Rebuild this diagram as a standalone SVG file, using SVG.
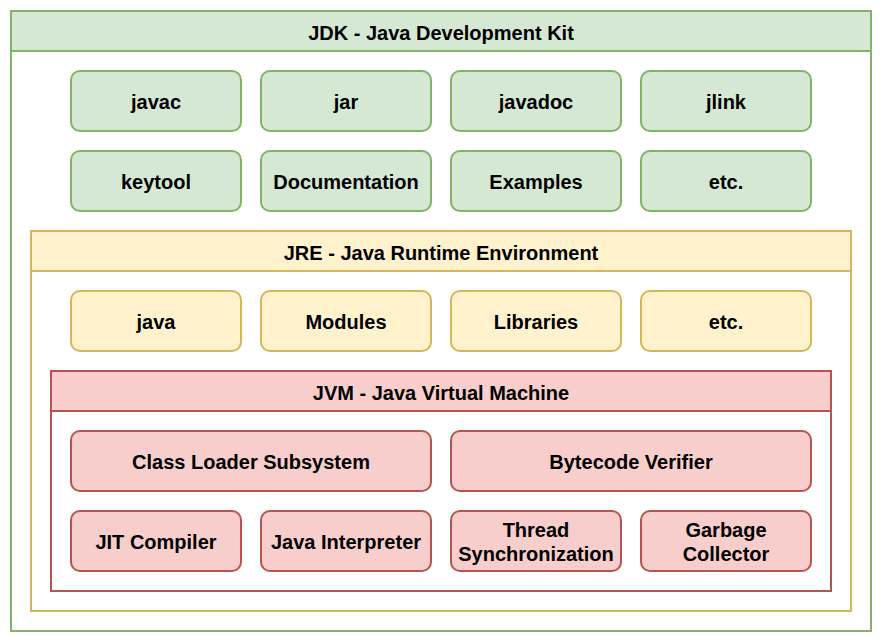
<svg xmlns="http://www.w3.org/2000/svg" width="882" height="642" viewBox="0 0 882 642">
<style>
text{font-family:"Liberation Sans",Arial,sans-serif;font-weight:bold;font-size:20px;fill:#000;text-anchor:middle}
.g{fill:#d5e8d4;stroke:#82b366;stroke-width:2}
.y{fill:#fff2cc;stroke:#d6b656;stroke-width:2}
.r{fill:#f8cecc;stroke:#b85450;stroke-width:2}
.w{fill:#fff;stroke-width:2}
</style>
<rect width="882" height="642" fill="#fff"/>
<g id="jdk">
<rect class="w" x="11" y="11" width="860" height="620" stroke="#82b366"/>
<rect class="g" x="11" y="11" width="860" height="40"/>
<text x="441" y="40">JDK - Java Development Kit</text>
</g>
<g id="javac"><rect class="g" x="71" y="71" width="170" height="60" rx="9"/><text x="156" y="109">javac</text></g>
<g id="jar"><rect class="g" x="261" y="71" width="170" height="60" rx="9"/><text x="346" y="109">jar</text></g>
<g id="javadoc"><rect class="g" x="451" y="71" width="170" height="60" rx="9"/><text x="536" y="109">javadoc</text></g>
<g id="jlink"><rect class="g" x="641" y="71" width="170" height="60" rx="9"/><text x="726" y="109">jlink</text></g>
<g id="keytool"><rect class="g" x="71" y="151" width="170" height="60" rx="9"/><text x="156" y="189">keytool</text></g>
<g id="documentation"><rect class="g" x="261" y="151" width="170" height="60" rx="9"/><text x="346" y="189">Documentation</text></g>
<g id="examples"><rect class="g" x="451" y="151" width="170" height="60" rx="9"/><text x="536" y="189">Examples</text></g>
<g id="jdk-etc"><rect class="g" x="641" y="151" width="170" height="60" rx="9"/><text x="726" y="189">etc.</text></g>
<g id="jre">
<rect class="w" x="31" y="231" width="820" height="380" stroke="#d6b656"/>
<rect class="y" x="31" y="231" width="820" height="40"/>
<text x="441" y="260">JRE - Java Runtime Environment</text>
</g>
<g id="java"><rect class="y" x="71" y="291" width="170" height="60" rx="9"/><text x="156" y="329">java</text></g>
<g id="modules"><rect class="y" x="261" y="291" width="170" height="60" rx="9"/><text x="346" y="329">Modules</text></g>
<g id="libraries"><rect class="y" x="451" y="291" width="170" height="60" rx="9"/><text x="536" y="329">Libraries</text></g>
<g id="jre-etc"><rect class="y" x="641" y="291" width="170" height="60" rx="9"/><text x="726" y="329">etc.</text></g>
<g id="jvm">
<rect class="w" x="51" y="371" width="780" height="220" stroke="#b85450"/>
<rect class="r" x="51" y="371" width="780" height="40"/>
<text x="441" y="400">JVM - Java Virtual Machine</text>
</g>
<g id="classloader"><rect class="r" x="71" y="431" width="360" height="60" rx="9"/><text x="251" y="469">Class Loader Subsystem</text></g>
<g id="verifier"><rect class="r" x="451" y="431" width="360" height="60" rx="9"/><text x="631" y="469">Bytecode Verifier</text></g>
<g id="jit"><rect class="r" x="71" y="511" width="170" height="60" rx="9"/><text x="156" y="549">JIT Compiler</text></g>
<g id="interpreter"><rect class="r" x="261" y="511" width="170" height="60" rx="9"/><text x="346" y="549">Java Interpreter</text></g>
<g id="thread"><rect class="r" x="451" y="511" width="170" height="60" rx="9"/><text x="536" y="537">Thread</text><text x="536" y="561">Synchronization</text></g>
<g id="gc"><rect class="r" x="641" y="511" width="170" height="60" rx="9"/><text x="726" y="537">Garbage</text><text x="726" y="561">Collector</text></g>
<g id="connectors"/>
</svg>
